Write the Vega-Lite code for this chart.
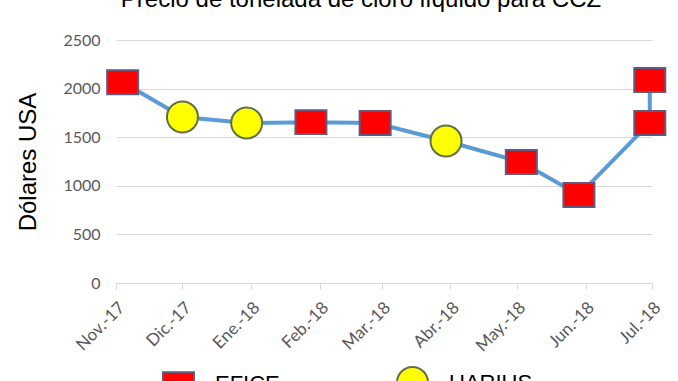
{
  "$schema": "https://vega.github.io/schema/vega-lite/v6.json",
  "width": 536,
  "height": 243,
  "autosize": {"type": "none"},
  "padding": {"left": 116, "top": 40, "right": 26, "bottom": 98},
  "background": "white",
  "title": {
    "text": "Precio de tonelada de cloro líquido para CCZ",
    "font": "Liberation Sans",
    "fontSize": 24,
    "fontWeight": "normal",
    "color": "#000000",
    "offset": 20,
    "dx": -23
  },
  "data": {
    "values": [
      {"orden": 1, "mes": "Nov.-17", "fecha": "2017-11-04T00:00:00", "precio": 2065, "empresa": "EFICE"},
      {"orden": 2, "mes": "Dic.-17", "fecha": "2017-12-01T00:00:00", "precio": 1708, "empresa": "UARIUS"},
      {"orden": 3, "mes": "Ene.-18", "fecha": "2017-12-30T00:00:00", "precio": 1646, "empresa": "UARIUS"},
      {"orden": 4, "mes": "Feb.-18", "fecha": "2018-01-28T00:00:00", "precio": 1655, "empresa": "EFICE"},
      {"orden": 5, "mes": "Mar.-18", "fecha": "2018-02-26T00:00:00", "precio": 1646, "empresa": "EFICE"},
      {"orden": 6, "mes": "Abr.-18", "fecha": "2018-03-30T00:00:00", "precio": 1461, "empresa": "UARIUS"},
      {"orden": 7, "mes": "May.-18", "fecha": "2018-05-03T00:00:00", "precio": 1245, "empresa": "EFICE"},
      {"orden": 8, "mes": "Jun.-18", "fecha": "2018-05-29T00:00:00", "precio": 905, "empresa": "EFICE"},
      {"orden": 9, "mes": "Jul.-18", "fecha": "2018-06-30T00:00:00", "precio": 1646, "empresa": "EFICE"},
      {"orden": 10, "mes": "Jul.-18", "fecha": "2018-06-30T00:00:00", "precio": 2088, "empresa": "EFICE"}
    ]
  },
  "encoding": {
    "x": {
      "field": "fecha",
      "type": "temporal",
      "scale": {"domain": [{"year": 2017, "month": 11, "date": 1}, {"year": 2018, "month": 7, "date": 1}]},
      "axis": {
        "title": null,
        "tickCount": {"interval": "month", "step": 1},
        "labelExpr": "['Ene.','Feb.','Mar.','Abr.','May.','Jun.','Jul.','Ago.','Sep.','Oct.','Nov.','Dic.'][month(datum.value)] + '-' + timeFormat(datum.value, '%y')",
        "labelAngle": -45,
        "labelFont": "Lato",
        "labelFontSize": 17,
        "labelColor": "#595959",
        "labelPadding": 10,
        "labelFlush": false,
        "labelOverlap": false,
        "grid": false,
        "domainColor": "#d9d9d9",
        "domainWidth": 1,
        "tickColor": "#d9d9d9",
        "tickSize": 6
      }
    },
    "y": {
      "field": "precio",
      "type": "quantitative",
      "scale": {"domain": [0, 2500], "nice": false},
      "axis": {
        "title": "Dólares USA",
        "titleFont": "Liberation Sans",
        "titleFontSize": 24,
        "titleFontWeight": "normal",
        "titleColor": "#000000",
        "titlePadding": 22,
        "values": [0, 500, 1000, 1500, 2000, 2500],
        "format": "d",
        "labelFont": "Lato",
        "labelFontSize": 16,
        "labelColor": "#595959",
        "labelPadding": 16,
        "ticks": false,
        "domain": false,
        "gridColor": "#d9d9d9",
        "gridWidth": 1
      }
    }
  },
  "layer": [
    {
      "mark": {"type": "line", "color": "#5B9BD5", "strokeWidth": 4},
      "encoding": {"order": {"field": "orden", "type": "quantitative"}}
    },
    {
      "mark": {"type": "point", "filled": true, "opacity": 1, "strokeWidth": 2},
      "encoding": {
        "shape": {
          "field": "empresa",
          "type": "nominal",
          "scale": {"domain": ["EFICE", "UARIUS"], "range": ["M-1,-0.77H1V0.77H-1Z", "circle"]},
          "legend": {"title": null}
        },
        "fill": {
          "field": "empresa",
          "type": "nominal",
          "scale": {"domain": ["EFICE", "UARIUS"], "range": ["#FF0000", "#FFFF00"]},
          "legend": {"title": null}
        },
        "stroke": {
          "field": "empresa",
          "type": "nominal",
          "scale": {"domain": ["EFICE", "UARIUS"], "range": ["#5E5A80", "#5F7048"]},
          "legend": {"title": null}
        },
        "size": {"value": 961}
      }
    }
  ],
  "config": {
    "view": {"stroke": null},
    "legend": {
      "orient": "none",
      "legendX": 46,
      "legendY": 326,
      "direction": "horizontal",
      "padding": 0,
      "labelFont": "Liberation Sans",
      "labelFontSize": 22,
      "labelColor": "#000000",
      "labelOffset": 20,
      "columnPadding": 113,
      "symbolSize": 961,
      "symbolStrokeWidth": 2,
      "symbolOpacity": 1
    }
  }
}
